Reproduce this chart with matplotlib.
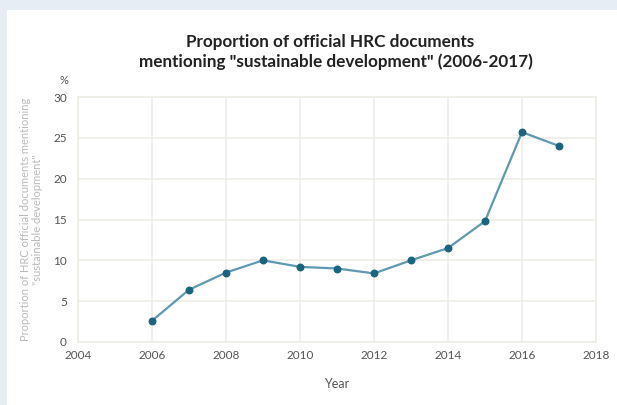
import matplotlib.pyplot as plt
from matplotlib.patches import Rectangle

# data
years = [2006, 2007, 2008, 2009, 2010, 2011, 2012, 2013, 2014, 2015, 2016, 2017]
share = [2.6, 6.4, 8.5, 10.0, 9.2, 9.0, 8.4, 10.0, 11.5, 14.8, 25.7, 24.0]
x_ticks = [2004, 2006, 2008, 2010, 2012, 2014, 2016, 2018]
y_ticks = [0, 5, 10, 15, 20, 25, 30]

plt.rcParams['font.family'] = ['Lato', 'DejaVu Sans']

fig = plt.figure(figsize=(6.17, 4.05), dpi=100)
fig.patch.set_facecolor('#e7edf4')
# white card on the light background
card = fig.add_axes([7 / 617, 0, 1, 1 - 10 / 405], zorder=0)
card.set_facecolor('white')
card.set_axis_off()
card.add_patch(Rectangle((0, 0), 1, 1, transform=card.transAxes,
                         facecolor='white', edgecolor='none'))

ax = fig.add_axes([78 / 617, 63 / 405, 518 / 617, 245 / 405], zorder=2)
ax.set_facecolor('white')

grid_col = '#efeee6'
ax.plot(years, share, color='#5f98b1', lw=1.6, zorder=3)
ax.scatter(years, share, s=22, color='#1b6480', zorder=4)

ax.set_xlim(2004, 2018)
ax.set_ylim(0, 30)
ax.set_xticks(x_ticks)
ax.set_yticks(y_ticks)
ax.grid(True, color=grid_col, lw=1.2)
ax.set_axisbelow(True)
for s in ax.spines.values():
    s.set_color(grid_col)
    s.set_linewidth(1.2)
ax.tick_params(length=0, labelsize=8.5, colors='#555555', pad=6)
ax.tick_params(axis='y', pad=8)

ax.set_xlabel('Year', fontsize=9, color='#555555', labelpad=12)
ax.set_ylabel('Proportion of HRC official documents mentioning\n"sustainable development"',
              fontsize=8, color='#bbbbbb', linespacing=1.1)
ax.yaxis.set_label_coords(-0.068, 0.5)

fig.text(330 / 617, 1 - 42 / 405, 'Proportion of official HRC documents',
         ha='center', va='center', fontsize=12.3, fontweight='bold', color='#222222')
fig.text(336 / 617, 1 - 62 / 405, 'mentioning "sustainable development" (2006-2017)',
         ha='center', va='center', fontsize=12.3, fontweight='bold', color='#222222')
fig.text(64 / 617, 1 - 80 / 405, '%', ha='center', va='center', fontsize=8, color='#555555')

plt.savefig('out.png', dpi=100, facecolor=fig.get_facecolor())
